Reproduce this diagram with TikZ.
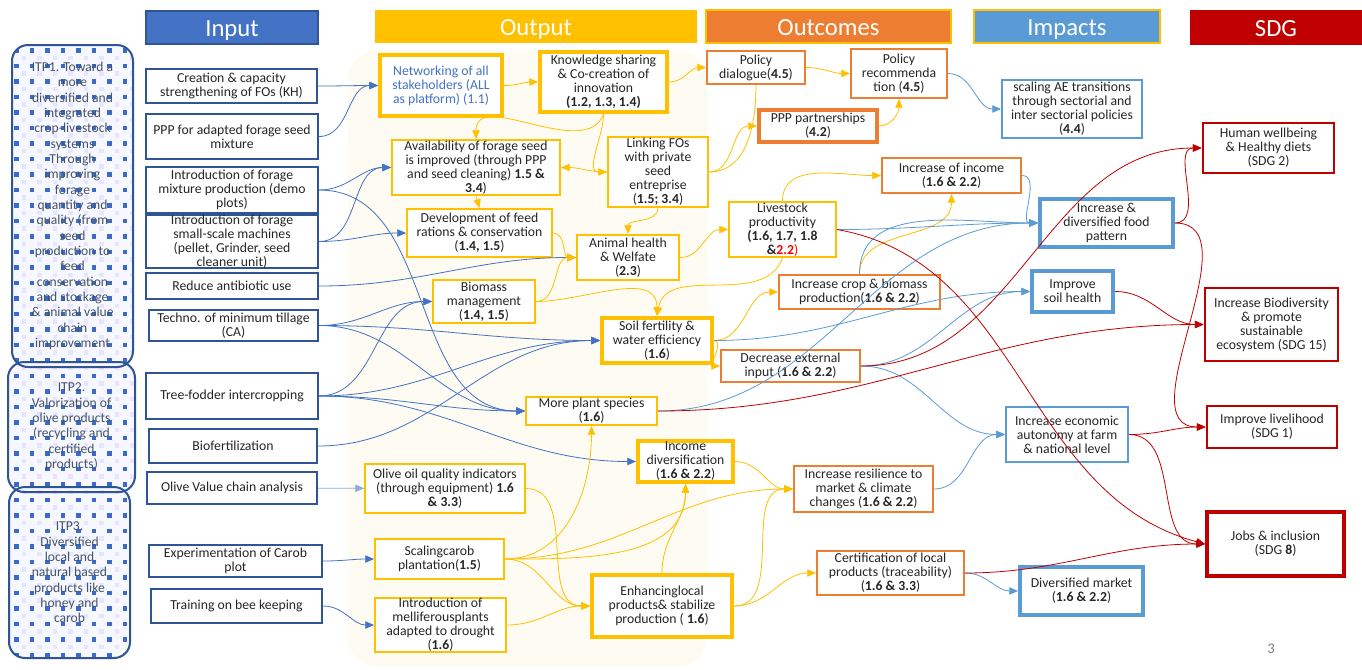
\documentclass[tikz,border=0pt]{standalone}
\usepackage{fontspec}
\setmainfont{Carlito}
\usetikzlibrary{arrows.meta}

\definecolor{inblue}{HTML}{2F5597}
\definecolor{hdblue}{HTML}{4472C4}
\definecolor{outyel}{HTML}{FFC000}
\definecolor{outorg}{HTML}{ED7D31}
\definecolor{impblue}{HTML}{5B9BD5}
\definecolor{sdgred}{HTML}{C00000}
\definecolor{outbg}{HTML}{FEFBF2}
\definecolor{itpdot}{HTML}{3A6BCB}
\definecolor{itptext}{HTML}{44546A}
\definecolor{olvblue}{HTML}{8FAADC}
\definecolor{txt}{HTML}{262626}

\tikzset{
  sz/.style 2 args={minimum width=#1*0.75pt, minimum height=#2*0.75pt},
  box/.style={fill=white, align=center, inner sep=0pt, text=txt,
    font=\fontsize{10.3}{10.5}\selectfont},
  inbox/.style={box, draw=inblue, line width=1.5pt},
  outbox/.style={box, draw=outyel, line width=1.5pt},
  outbig/.style={outbox, line width=3pt},
  ocbox/.style={box, draw=outorg, line width=1.5pt},
  impbox/.style={box, draw=impblue, line width=1.5pt},
  impbig/.style={impbox, line width=3pt},
  sdgbox/.style={box, draw=sdgred, line width=2.2pt},
  itpbox/.style={draw=inblue, line width=1.5pt, rounded corners=12pt, align=center,
    inner sep=0pt, text=itptext, font=\fontsize{10.2}{11.5}\selectfont},
  hdbox/.style={text=white, inner sep=0pt, text height=15.5pt, text depth=2pt,
    font=\fontsize{18.5}{20}\selectfont},
  arrtip/.style={-{Triangle[length=6.5pt,width=5.5pt]}},
  bl/.style={draw=hdblue, line width=0.6pt, arrtip},
  yl/.style={draw=outyel, line width=0.6pt, arrtip},
  lb/.style={draw=impblue, line width=0.6pt, arrtip},
  rd/.style={draw=sdgred, line width=0.6pt, arrtip},
}

\begin{document}
\begin{tikzpicture}[x=0.75pt, y=-0.75pt]
\useasboundingbox (0,0) rectangle (1362,669);
\fill[white] (0,0) rectangle (1362,669);

% background of the output column
\fill[outbg, rounded corners=22pt] (348,50) rectangle (707,667);

% dotted fill of the ITP boxes
\begin{scope}
  \clip[rounded corners=12pt] (12,45) rectangle (133,367)
    (8,362) rectangle (135,492) (9,487) rectangle (130,658);
  \fill[blue!3] (0,40) rectangle (140,660);
  \foreach \i in {0,...,8}
    \foreach \j in {0,...,40} {
      \fill[itpdot] ({14+\i*15.5},{48+\j*15.5}) rectangle ++(4.5,4.5);
      \fill[blue!10] ({21.75+\i*15.5},{55.75+\j*15.5}) rectangle ++(4.5,4.5);
    }
\end{scope}

% Headers
\node[hdbox, fill=hdblue, draw=inblue, line width=1pt, sz={172}{33}] (hinput) at (232,27.5) {Input};
\node[hdbox, fill=outyel, sz={322}{33}] (houtput) at (536,26.5) {Output};
\node[hdbox, fill=outorg, draw=outyel, line width=0.8pt, sz={245}{33}] (houtcomes) at (828.5,26.5) {Outcomes};
\node[hdbox, fill=impblue, draw=outyel, line width=0.8pt, sz={186}{33}] (himpacts) at (1067,26.5) {Impacts};
\node[hdbox, fill=sdgred, sz={172}{35}] (hsdg) at (1276,27.5) {SDG};

% ITP boxes
\node[itpbox, sz={121}{322}] (itp1) at (72.5,206) {ITP1. Toward a\\more\\diversified and\\integrated\\crop-livestock\\systems\\Through\\improving\\forage\\quantity and\\quality (from\\seed\\production to\\feed\\conservation\\and stockage\\\& animal value\\chain\\improvement};
\node[itpbox, sz={127}{130}] (itp2) at (71.5,427) {ITP2.\\Valorization of\\olive products\\(recycling and\\certified\\products)};
\node[itpbox, sz={121}{171}] (itp3) at (69.5,572.5) {ITP3.\\Diversified\\local and\\natural based\\products like\\honey and\\carob};

% Input
\node[inbox, sz={171}{34}] (creation) at (231.5,86) {Creation \& capacity\\strengthening of FOs (KH)};
\node[inbox, sz={172}{45}] (pppseed) at (232,136.5) {PPP for adapted forage seed\\mixture};
\node[inbox, sz={172}{46}] (mixture) at (232,190) {Introduction of forage\\mixture production (demo\\plots)};
\node[inbox, sz={172}{53}] (machines) at (232,241.5) {Introduction of forage\\small-scale machines\\(pellet, Grinder, seed\\cleaner unit)};
\node[inbox, sz={172}{26}] (antibio) at (232,286) {Reduce antibiotic use};
\node[inbox, sz={169}{31}] (tillage) at (233.5,325.5) {Techno. of minimum tillage\\(CA)};
\node[inbox, sz={172}{46}] (treefod) at (232,396) {Tree-fodder intercropping};
\node[inbox, sz={168}{34}] (biofert) at (233,446) {Biofertilization};
\node[inbox, sz={170}{32}] (olivechain) at (232,488) {Olive Value chain analysis};
\node[inbox, sz={173}{32}] (carob) at (235.5,561) {Experimentation of Carob\\plot};
\node[inbox, sz={171}{34}] (beekeep) at (236.5,606) {Training on bee keeping};

% Output
\node[outbig, sz={122}{61}, text=hdblue] (network) at (441,85.5) {Networking of all\\stakeholders (ALL\\as platform) (1.1)};
\node[outbig, sz={127}{60}] (knowledge) at (603.5,82) {Knowledge sharing\\\& Co-creation of\\innovation\\\textbf{(1.2, 1.3, 1.4)}};
\node[outbox, sz={168}{55}] (availseed) at (476,167.5) {Availability of forage seed\\is improved (through PPP\\and seed cleaning) \textbf{1.5 \&}\\\textbf{3.4})};
\node[outbox, sz={100}{70}] (linkfo) at (658,172) {Linking FOs\\with private\\seed\\entreprise\\(\textbf{1.5; 3.4})};
\node[outbox, sz={145}{48}] (feedrat) at (479.5,233) {Development of feed\\rations \& conservation\\(\textbf{1.4, 1.5})};
\node[outbox, sz={102}{45}] (animal) at (628,257.5) {Animal health\\\& Welfate\\(\textbf{2.3})};
\node[outbox, sz={102}{43}] (biomass) at (484,301.5) {Biomass\\management\\(\textbf{1.4, 1.5})};
\node[outbig, sz={110}{45}] (soilfert) at (657,340.5) {Soil fertility \&\\water efficiency\\(\textbf{1.6})};
\node[outbox, sz={131}{28}] (plantsp) at (591.5,411) {More plant species\\(\textbf{1.6})};
\node[outbig, sz={95}{41}] (incdiv) at (685.5,461.5) {Income\\diversification\\(\textbf{1.6 \& 2.2})};
\node[outbox, sz={160}{49}] (oliveoil) at (445,488.5) {Olive oil quality indicators\\(through equipment) \textbf{1.6}\\\textbf{\& 3.3})};
\node[outbox, sz={129}{40}] (scalcarob) at (439.5,559) {Scalingcarob\\plantation(\textbf{1.5})};
\node[outbox, sz={131}{54}] (mellif) at (440.5,625) {Introduction of\\melliferousplants\\adapted to drought\\(\textbf{1.6})};
\node[outbig, sz={140}{62}] (enhance) at (662,606) {Enhancinglocal\\products\& stabilize\\production ( \textbf{1.6})};

% Outcomes
\node[ocbox, sz={98}{33}] (poldial) at (756,67.5) {Policy\\dialogue(\textbf{4.5})};
\node[ocbox, sz={96}{49}] (polrec) at (899,73.5) {Policy\\recommenda\\tion (\textbf{4.5})};
\node[ocbox, line width=3pt, sz={118}{32}] (ppppart) at (818,126) {PPP partnerships\\(\textbf{4.2})};
\node[ocbox, sz={139}{35}] (incinc) at (951.5,175.5) {Increase of income\\(\textbf{1.6 \& 2.2})};
\node[outbox, sz={107}{55}] (livestock) at (782.5,229.5) {Livestock\\productivity\\\textbf{(1.6, 1.7, 1.8}\\\textbf{\&\textcolor{red}{2.2}}\textcolor{red}{)}};
\node[ocbox, sz={161}{34}] (cropbio) at (859.5,292) {Increase crop \& biomass\\production(\textbf{1.6 \& 2.2})};
\node[ocbox, sz={139}{32}] (decext) at (790.5,366) {Decrease external\\input (\textbf{1.6 \& 2.2})};
\node[ocbox, sz={139}{46}] (resil) at (863.5,489) {Increase resilience to\\market \& climate\\changes (\textbf{1.6 \& 2.2})};
\node[ocbox, sz={147}{44}] (certif) at (890.5,573) {Certification of local\\products (traceability)\\(\textbf{1.6 \& 3.3})};

% Impacts
\node[impbox, sz={140}{58}] (scaling) at (1072,109) {scaling AE transitions\\through sectorial and\\inter sectorial policies\\(\textbf{4.4})};
\node[impbig, sz={133}{48}] (fooddiv) at (1106.5,223) {Increase \&\\diversified food\\pattern};
\node[impbig, sz={81}{41}] (soilhealth) at (1072.5,291.5) {Improve\\soil health};
\node[impbox, sz={122}{55}] (econaut) at (1067,434.5) {Increase economic\\autonomy at farm\\\& national level};
\node[impbig, sz={123}{48}] (divmarket) at (1081.5,591) {Diversified market\\(\textbf{1.6 \& 2.2})};

% SDG
\node[sdgbox, sz={131}{50}] (sdghealth) at (1268.5,148) {Human wellbeing\\\& Healthy diets\\(SDG 2)};
\node[sdgbox, sz={133}{73}] (sdgbio) at (1271.5,324.5) {Increase Biodiversity\\\& promote\\sustainable\\ecosystem (SDG 15)};
\node[sdgbox, sz={130}{42}] (sdglive) at (1272,427) {Improve livelihood\\(SDG 1)};
\node[sdgbox, line width=3pt, sz={137}{64}] (sdgjobs) at (1275.5,544) {Jobs \& inclusion\\(SDG \textbf{8})};

\node[text=gray, font=\fontsize{11}{12}\selectfont] (pagenum) at (1271,649) {3};

% Input -> Output
\foreach \a/\b in {creation/network, pppseed/network, mixture/availseed, machines/availseed,
  machines/feedrat, mixture/plantsp, antibio/animal, tillage/biomass, tillage/soilfert,
  tillage/plantsp, treefod/biomass, treefod/soilfert, treefod/plantsp, treefod/incdiv,
  biofert/soilfert, carob/scalcarob, beekeep/mellif}
  \draw[bl] (\a.east) to[out=0,in=180] (\b.west);
\draw[bl, draw=olvblue] (olivechain) -- (oliveoil);

% Output -> Output / Outcomes
\foreach \a/\b in {network/knowledge, knowledge/poldial, feedrat/animal, biomass/animal,
  animal/livestock, soilfert/cropbio, soilfert/decext, incdiv/resil, oliveoil/enhance,
  scalcarob/resil, scalcarob/enhance, mellif/enhance, enhance/resil, enhance/certif,
  linkfo/ppppart, poldial/polrec}
  \draw[yl] (\a.east) to[out=0,in=180] (\b.west);
\draw[yl] (knowledge.south) to[out=250,in=90] (availseed.north);
\draw[yl] (knowledge.south) to[out=-90,in=180] (linkfo.west);
\draw[yl] (linkfo.west) to[out=180,in=0] (availseed.east);
\draw[draw=outyel, line width=0.6pt] (linkfo.east) to[out=0,in=-90] (poldial.south);
\draw[yl] (linkfo.south) to[out=-90,in=90] (animal.north);
\draw[yl] (availseed.south) -- (feedrat.north);
\draw[yl] (biomass.east) to[out=0,in=90] (soilfert.north);
\draw[yl] (livestock.south) to[out=250,in=80] (soilfert.north);
\draw[yl] (scalcarob.east) to[out=0,in=-90] (plantsp.south);
\draw[yl] (scalcarob.east) to[out=0,in=-90] (incdiv.south);
\draw[yl] (enhance.north) to[out=90,in=-90] (incdiv.south);
\draw[yl] (ppppart.east) to[out=0,in=-90] (polrec.south);
\draw[yl] (livestock.north) to[out=90,in=180] (incinc.west);
\draw[yl] (cropbio.north) to[out=90,in=-90] (incinc.south);

% Outcomes -> Impacts
\foreach \a/\b in {polrec/scaling, incinc/fooddiv, livestock/fooddiv, plantsp/fooddiv,
  soilfert/soilhealth, decext/soilhealth, decext/econaut, resil/econaut, certif/divmarket}
  \draw[lb] (\a.east) to[out=0,in=180] (\b.west);
\draw[lb] (cropbio.north) to[out=90,in=180] (fooddiv.west);

% -> SDG
\foreach \a/\b in {decext/sdghealth, plantsp/sdgbio, soilhealth/sdgbio, fooddiv/sdghealth,
  fooddiv/sdglive, econaut/sdglive, econaut/sdgjobs, certif/sdgjobs}
  \draw[rd] (\a.east) to[out=0,in=180] (\b.west);
\draw[rd] (livestock.east) to[out=-10,in=165] (sdgjobs.west);
\end{tikzpicture}
\end{document}
